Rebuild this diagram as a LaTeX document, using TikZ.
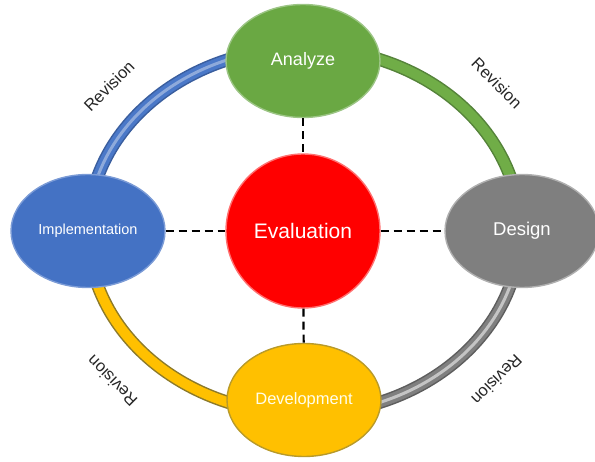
\documentclass[tikz,border=0pt]{standalone}
\usepackage{fontspec}
\setmainfont{Liberation Sans}
\usetikzlibrary{shapes.geometric}
\definecolor{bluedk}{HTML}{3A5E9E}
\definecolor{bluemn}{HTML}{4A78C8}
\definecolor{bluehl}{HTML}{8EAADB}
\definecolor{greendk}{HTML}{55833A}
\definecolor{greenmn}{HTML}{70AD47}
\definecolor{greenhl}{HTML}{70AD47}
\definecolor{graydk}{HTML}{5E5E5E}
\definecolor{graymn}{HTML}{7F7F7F}
\definecolor{grayhl}{HTML}{C4C4C4}
\definecolor{yeldk}{HTML}{8C7A2A}
\definecolor{yelmn}{HTML}{FFC000}
\definecolor{yelhl}{HTML}{FFC000}
\definecolor{anafill}{HTML}{6AA843}
\definecolor{anaedge}{HTML}{9CC585}
\definecolor{desfill}{HTML}{7F7F7F}
\definecolor{desedge}{HTML}{B0B0B0}
\definecolor{impfill}{HTML}{4472C4}
\definecolor{impedge}{HTML}{7B9BD6}
\definecolor{devfill}{HTML}{FFC000}
\definecolor{devedge}{HTML}{B89A2A}
\definecolor{evafill}{HTML}{FF0000}
\definecolor{evaedge}{HTML}{FF7070}
\begin{document}
\begin{tikzpicture}[x=1pt,y=1pt,
  stage/.style={ellipse, minimum width=154pt, minimum height=113pt, inner sep=0pt, text=white, line width=1.4pt},
  evalnode/.style={circle, minimum size=154pt, inner sep=0pt, text=white, line width=1.4pt,
    fill=evafill, draw=evaedge, font=\fontsize{21}{21}\selectfont},
  dashline/.style={dash pattern=on 8pt off 5pt, line width=2.2pt, black},
  revlabel/.style={font=\fontsize{16.5}{16.5}\selectfont, text=black!85, inner sep=0pt}]
\useasboundingbox (0,0) rectangle (595,461);
\coordinate (ringc) at (304,230);
% ring arcs
\foreach \s/\e/\dk/\mn/\hl in {90/180/bluedk/bluemn/bluehl, 0/90/greendk/greenmn/greenhl,
    270/360/graydk/graymn/grayhl, 180/270/yeldk/yelmn/yelhl}{
  \draw[line width=13pt, color=\dk] ([shift={(\s:216pt and 183pt)}]ringc)
     arc[start angle=\s, end angle=\e, x radius=216pt, y radius=183pt];
  \draw[line width=10pt, color=\mn] ([shift={(\s:216pt and 183pt)}]ringc)
     arc[start angle=\s, end angle=\e, x radius=216pt, y radius=183pt];
  \draw[line width=3pt, color=\hl] ([shift={(\s:216pt and 183pt)}]ringc)
     arc[start angle=\s, end angle=\e, x radius=216pt, y radius=183pt];
}
% nodes
\node[stage, fill=anafill, draw=anaedge, font=\fontsize{18}{18}\selectfont] (ana) at (303,400) {Analyze};
\node[stage, fill=desfill, draw=desedge, font=\fontsize{18.5}{18.5}\selectfont] (des) at (522,230) {Design};
\node[stage, fill=impfill, draw=impedge, font=\fontsize{14.5}{14.5}\selectfont] (imp) at (88,230) {Implementation};
\node[stage, fill=devfill, draw=devedge, text=white!92!yellow, font=\fontsize{16.5}{16.5}\selectfont] (dev) at (304,61) {Development};
\node[evalnode] (eva) at (303,230) {Evaluation};
% dashed links
\draw[dashline] (ana) -- (eva);
\draw[dashline] (eva) -- (dev);
\draw[dashline] (imp) -- (eva);
\draw[dashline] (eva) -- (des);
% labels
\node[revlabel, rotate=45] (r1) at (109,375) {Revision};
\node[revlabel, rotate=-45] (r2) at (497,378) {Revision};
\node[revlabel, rotate=225] (r3) at (497,81) {Revision};
\node[revlabel, rotate=135] (r4) at (112,80) {Revision};
\end{tikzpicture}
\end{document}
